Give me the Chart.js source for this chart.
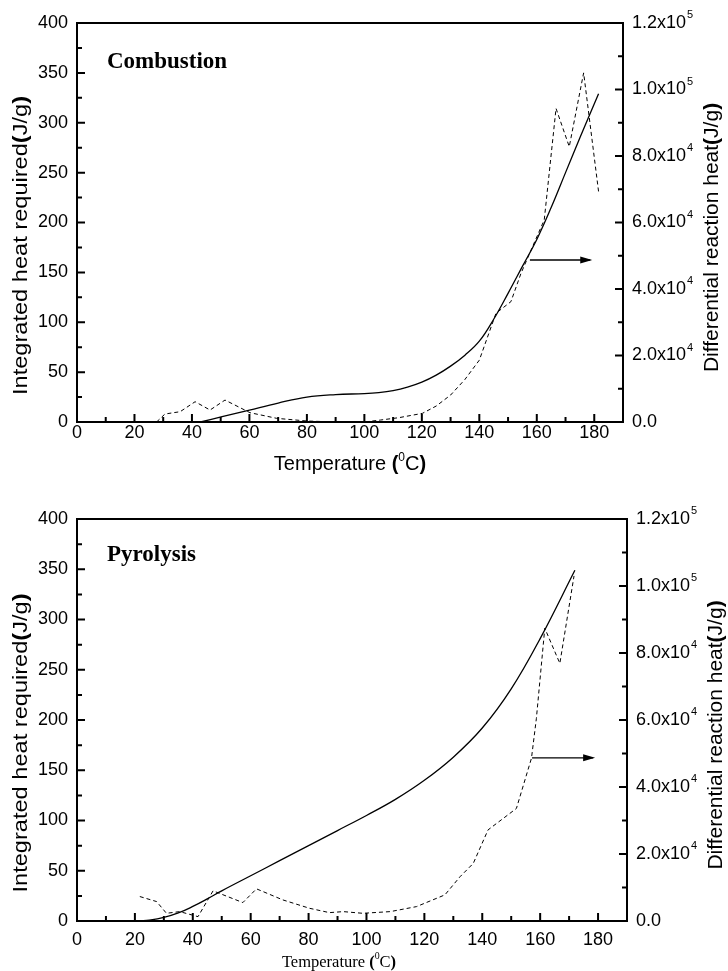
<!DOCTYPE html>
<html>
<head>
<meta charset="utf-8">
<script src="https://cdn.jsdelivr.net/npm/chart.js@4.4.1/dist/chart.umd.min.js"></script>
<style>
  html, body { margin: 0; padding: 0; background: #fff; }
  #wrap { position: relative; width: 728px; height: 971px; }
  #c1 { position: absolute; left: 0; top: 0; }
  #c2 { position: absolute; left: 0; top: 480px; }
</style>
</head>
<body>
<div id="wrap">
  <canvas id="c1" width="728" height="480"></canvas>
  <canvas id="c2" width="728" height="491"></canvas>
</div>
<script>
// Combustion: integrated heat (left axis) and differential heat (right axis)
const tempCombSolid = [43, 50.5, 60, 70, 80, 90, 100, 105, 110, 115, 120, 125, 130, 135, 140, 145, 150, 155, 160, 165, 170, 175, 181.5];
const heatCombSolid = [0, 5.3, 12, 19, 25, 27.5, 28.5, 29.5, 31.5, 35, 40, 47, 56, 67, 81, 103, 129, 156, 183, 215, 250, 285, 329];
const tempCombDash = [27.7, 30.6, 35.9, 41.1, 46.3, 51.5, 60.2, 69.5, 80, 90, 100, 105.7, 112, 120.2, 125, 130, 135, 140, 145.8, 151, 154.5, 158, 162.6, 166.7, 171.3, 176.3, 181.5];
const diffCombDash = [0, 2400, 3100, 6100, 3600, 6600, 2800, 1100, 300, 0, 0, 600, 1300, 2600, 4800, 8100, 12800, 18600, 32700, 36200, 44700, 51700, 60800, 94300, 82800, 105000, 69300];
const arrowCombTemp = [157.6, 178.6];
const arrowCombLevel = [48700, 48700];

// Pyrolysis
const tempPyroSolid = [21.7, 25, 30, 35, 40, 45, 50, 60, 70, 80, 90, 100, 110, 120, 130, 140, 150, 160, 172];
const heatPyroSolid = [0, 0.8, 3.5, 8, 14.5, 22, 30, 45, 60, 75, 90, 105, 121, 140, 163, 192, 231, 281, 349];
const tempPyroDash = [21.7, 27.5, 30.9, 35.5, 41.8, 47, 57.3, 62, 71.1, 80.3, 87.2, 92, 98.7, 108.2, 117.3, 127.1, 132.3, 136.9, 142, 151.8, 157, 158.7, 161.6, 166.8, 171.7];
const diffPyroDash = [7300, 5800, 2300, 2800, 1300, 9000, 5500, 9600, 6300, 3800, 2500, 2800, 2300, 2800, 4300, 7800, 13200, 17200, 27200, 33600, 48600, 60500, 87400, 76900, 103000];
const arrowPyroTemp = [157.2, 178.3];
const arrowPyroLevel = [48700, 48700];

// axis ranges / tick steps
const xRange = [0, 190], xStep = 20;
const yLeftRange = [0, 400], yLeftStep = 50;
const yRightRange = [0, 120000], yRightStep = 20000;

const SANS = '"Liberation Sans", Arial, sans-serif';
const SERIF = '"Liberation Serif", "Times New Roman", serif';

function pts(xs, ys) {
  return xs.map((x, i) => ({ x: x, y: ys[i] }));
}

// "1.2x10" + exponent, split so the exponent can be raised
function sciParts(v) {
  if (v === 0) return ['0.0', ''];
  const e = Math.floor(Math.log10(v) + 1e-9);
  const m = v / Math.pow(10, e);
  return [m.toFixed(1) + 'x10', String(e)];
}

// draws text made of runs (bold / superscript parts), centred on (cx, cy)
function drawRuns(ctx, runs, cx, cy, family, size, rot, stretch) {
  ctx.save();
  ctx.translate(cx, cy);
  ctx.rotate(rot || 0);
  ctx.scale(stretch || 1, 1);
  ctx.fillStyle = '#000';
  ctx.textBaseline = 'alphabetic';
  ctx.textAlign = 'left';
  const fontOf = r => (r.bold ? 'bold ' : '') + (r.sup ? size * 0.6 : size) + 'px ' + family;
  let total = 0;
  runs.forEach(r => { ctx.font = fontOf(r); total += ctx.measureText(r.t).width; });
  let x = -total / 2;
  runs.forEach(r => {
    ctx.font = fontOf(r);
    ctx.fillText(r.t, x, size * 0.35 - (r.sup ? size * 0.45 : 0));
    x += ctx.measureText(r.t).width;
  });
  ctx.restore();
}

function decorPlugin(cfg) {
  return {
    id: 'decor',
    afterDatasetsDraw(chart) {
      const ctx = chart.ctx, a = chart.chartArea;
      const sx = chart.scales.x, yl = chart.scales.y, yr = chart.scales.y2;
      ctx.save();
      ctx.strokeStyle = '#000';
      ctx.lineWidth = 2;
      ctx.strokeRect(a.left, a.top, a.right - a.left, a.bottom - a.top);

      const drawTicks = (scale, fn) => {
        const vals = scale.ticks.map(t => t.value);
        const step = vals[1] - vals[0];
        vals.forEach(v => fn(scale.getPixelForValue(v), 8));
        vals.forEach(v => {
          const m = v + step / 2;
          if (m < scale.max) fn(scale.getPixelForValue(m), 5);
        });
      };
      ctx.beginPath();
      drawTicks(sx, (p, len) => { ctx.moveTo(p, a.bottom); ctx.lineTo(p, a.bottom - len); });
      drawTicks(yl, (p, len) => { ctx.moveTo(a.left, p); ctx.lineTo(a.left + len, p); });
      drawTicks(yr, (p, len) => { ctx.moveTo(a.right, p); ctx.lineTo(a.right - len, p); });
      ctx.stroke();

      // right axis labels with raised exponent
      ctx.fillStyle = '#000';
      ctx.textAlign = 'left';
      ctx.textBaseline = 'middle';
      yr.ticks.forEach(t => {
        const p = yr.getPixelForValue(t.value);
        const parts = sciParts(t.value);
        ctx.font = '18px ' + SANS;
        ctx.fillText(parts[0], a.right + 9, p);
        if (parts[1]) {
          const w = ctx.measureText(parts[0]).width;
          ctx.font = '11px ' + SANS;
          ctx.fillText(parts[1], a.right + 10 + w, p - 8);
        }
      });

      // arrow head on the arrow dataset
      const ds = chart.data.datasets[2].data;
      const end = ds[ds.length - 1];
      const ex = sx.getPixelForValue(end.x), ey = yr.getPixelForValue(end.y);
      ctx.beginPath();
      ctx.moveTo(ex + 2, ey);
      ctx.lineTo(ex - 10, ey - 3.5);
      ctx.lineTo(ex - 10, ey + 3.5);
      ctx.closePath();
      ctx.fill();

      // panel label
      ctx.font = 'bold 23px ' + SERIF;
      ctx.textBaseline = 'alphabetic';
      ctx.fillText(cfg.label, a.left + 30, a.top + cfg.labelDy);
      ctx.restore();

      // axis titles
      const midY = (a.top + a.bottom) / 2;
      drawRuns(ctx, [{ t: 'Integrated heat required' }, { t: '(', bold: true }, { t: 'J/g' }, { t: ')', bold: true }],
        20, midY + 23, SANS, 20, -Math.PI / 2, 1.18);
      drawRuns(ctx, [{ t: 'Differential reaction heat' }, { t: '(', bold: true }, { t: 'J/g' }, { t: ')', bold: true }],
        a.right + 88, midY + 15, SANS, 20, -Math.PI / 2, 1.05);
      drawRuns(ctx, [{ t: 'Temperature ' }, { t: '(', bold: true }, { t: '0', sup: true }, { t: 'C' }, { t: ')', bold: true }],
        cfg.xTitleX, cfg.xTitleY, cfg.xTitleFamily, cfg.xTitleSize, 0, 1);
    }
  };
}

function makeChart(id, cfg) {
  const tickFont = { family: SANS, size: 18 };
  new Chart(document.getElementById(id), {
    type: 'line',
    data: {
      datasets: [
        {
          data: pts(cfg.solidT, cfg.solidV),
          yAxisID: 'y',
          borderColor: '#000',
          borderWidth: 1.3,
          pointRadius: 0,
          tension: 0.4,
          fill: false
        },
        {
          data: pts(cfg.dashT, cfg.dashV),
          yAxisID: 'y2',
          borderColor: '#000',
          borderWidth: 1,
          borderDash: [4, 3],
          pointRadius: 0,
          tension: 0,
          fill: false
        },
        {
          data: pts(cfg.arrowT, cfg.arrowV),
          yAxisID: 'y2',
          borderColor: '#000',
          borderWidth: 1.4,
          pointRadius: 0,
          fill: false
        }
      ]
    },
    options: {
      responsive: false,
      animation: false,
      devicePixelRatio: 1,
      layout: { padding: { top: cfg.padTop, left: 0, right: 0, bottom: 0 } },
      plugins: { legend: { display: false }, tooltip: { enabled: false } },
      scales: {
        x: {
          type: 'linear',
          min: xRange[0], max: xRange[1],
          grid: { display: false, drawTicks: false },
          border: { display: false },
          ticks: { stepSize: xStep, includeBounds: false, autoSkip: false, maxRotation: 0, color: '#000', font: tickFont, padding: cfg.xPad },
          afterFit: s => { s.height = cfg.xHeight; }
        },
        y: {
          position: 'left',
          min: yLeftRange[0], max: yLeftRange[1],
          grid: { display: false, drawTicks: false },
          border: { display: false },
          ticks: { stepSize: yLeftStep, color: '#000', font: tickFont, padding: 9 },
          afterFit: s => { s.width = 77; }
        },
        y2: {
          position: 'right',
          min: yRightRange[0], max: yRightRange[1],
          grid: { display: false, drawTicks: false },
          border: { display: false },
          ticks: { stepSize: yRightStep, display: false },
          afterFit: s => { s.width = cfg.rightWidth; }
        }
      }
    },
    plugins: [decorPlugin(cfg)]
  });
}

makeChart('c1', {
  solidT: tempCombSolid, solidV: heatCombSolid,
  dashT: tempCombDash, dashV: diffCombDash,
  arrowT: arrowCombTemp, arrowV: arrowCombLevel,
  padTop: 23, xHeight: 58, rightWidth: 105, xPad: 0,
  label: 'Combustion', labelDy: 45,
  xTitleX: 350, xTitleY: 463, xTitleFamily: SANS, xTitleSize: 20
});

makeChart('c2', {
  solidT: tempPyroSolid, solidV: heatPyroSolid,
  dashT: tempPyroDash, dashV: diffPyroDash,
  arrowT: arrowPyroTemp, arrowV: arrowPyroLevel,
  padTop: 39, xHeight: 50, rightWidth: 101, xPad: 8,
  label: 'Pyrolysis', labelDy: 42,
  xTitleX: 339, xTitleY: 481, xTitleFamily: SERIF, xTitleSize: 16.5
});
</script>
</body>
</html>
